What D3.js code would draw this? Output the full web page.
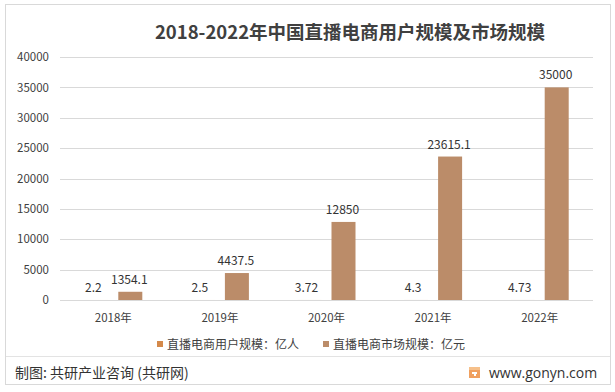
<!DOCTYPE html>
<html>
<head>
<meta charset="utf-8">
<script src="https://cdn.jsdelivr.net/npm/d3@7"></script>
<style>
  html, body { margin: 0; padding: 0; background: #fff; }
  svg { display: block; font-family: "Noto Sans CJK SC", "Noto Sans", sans-serif; }
</style>
</head>
<body>
<svg id="chart" width="615" height="392"></svg>
<script>
const categories = ["2018年", "2019年", "2020年", "2021年", "2022年"];
const users = [2.2, 2.5, 3.72, 4.3, 4.73];
const market = [1354.1, 4437.5, 12850, 23615.1, 35000];
const yTicks = [0, 5000, 10000, 15000, 20000, 25000, 30000, 35000, 40000];
const seriesNames = ["直播电商用户规模：亿人", "直播电商市场规模：亿元"];
const seriesColors = ["#d4894a", "#bb8c69"];
const titleText = "2018-2022年中国直播电商用户规模及市场规模";

const svg = d3.select("#chart");

// outer border
svg.append("rect").attr("x", 5.5).attr("y", 4.5).attr("width", 605).attr("height", 380)
  .attr("fill", "#fff").attr("stroke", "#d9d9d9").attr("stroke-width", 1);

// title
svg.append("text").attr("x", 350).attr("y", 39).attr("text-anchor", "middle")
  .attr("font-size", 18.5).attr("font-weight", "bold").attr("fill", "#404040")
  .text(titleText);

const x = d3.scaleBand().domain(categories).range([60, 593]);
const y = d3.scaleLinear().domain([0, 40000]).range([300, 57]);

// gridlines
svg.append("g").selectAll("line").data(yTicks).join("line")
  .attr("x1", 60).attr("x2", 593)
  .attr("y1", d => Math.round(y(d)) + 0.5).attr("y2", d => Math.round(y(d)) + 0.5)
  .attr("stroke", "#d9d9d9").attr("stroke-width", 1);

// y axis labels
const yAxis = d3.axisLeft(y).tickValues(yTicks).tickSize(0).tickPadding(0).tickFormat(d3.format("d"));
const ya = svg.append("g").attr("transform", "translate(49,0)").call(yAxis);
ya.select(".domain").remove();
ya.selectAll("text").attr("font-size", 11.5).attr("fill", "#404040")
  .attr("font-family", "'Noto Sans CJK SC', 'Noto Sans', sans-serif");

// x axis labels
const xAxis = d3.axisBottom(x).tickSize(0).tickPadding(0);
const xa = svg.append("g").attr("transform", "translate(0,314)").call(xAxis);
xa.select(".domain").remove();
xa.selectAll("text").attr("font-size", 11.5).attr("fill", "#404040")
  .attr("font-family", "'Noto Sans CJK SC', 'Noto Sans', sans-serif");

// bars
const barW = 24, gap = 10;
const offsets = [-(barW + gap) / 2, (barW + gap) / 2];
const series = [users, market];
series.forEach((vals, si) => {
  const g = svg.append("g");
  g.selectAll("rect").data(vals).join("rect")
    .attr("x", (d, i) => x(categories[i]) + x.bandwidth() / 2 + offsets[si] - barW / 2)
    .attr("y", d => y(d))
    .attr("width", barW)
    .attr("height", d => y(0) - y(d))
    .attr("fill", seriesColors[si]);
  g.selectAll("text").data(vals).join("text")
    .attr("x", (d, i) => x(categories[i]) + x.bandwidth() / 2 + offsets[si] + (si === 0 ? -3 : -1))
    .attr("y", d => y(d) - 8)
    .attr("text-anchor", "middle")
    .attr("font-size", 12).attr("fill", "#333")
    .text(d => d);
});

// legend
const legendX = [157, 323];
seriesNames.forEach((name, i) => {
  svg.append("rect").attr("x", legendX[i]).attr("y", 341).attr("width", 6).attr("height", 6)
    .attr("fill", seriesColors[i]);
  svg.append("text").attr("x", legendX[i] + 10).attr("y", 348.5)
    .attr("font-size", 12).attr("fill", "#404040").text(name);
});

// footer separator
svg.append("line").attr("x1", 6).attr("x2", 610).attr("y1", 356.5).attr("y2", 356.5)
  .attr("stroke", "#e3e3e3");

svg.append("text").attr("x", 15).attr("y", 378)
  .attr("font-size", 14).attr("fill", "#333").text("制图: 共研产业咨询 (共研网)");

// logo
const lg = svg.append("g").attr("transform", "translate(469,367)");
lg.append("rect").attr("width", 11).attr("height", 11).attr("fill", "#f0a060");
lg.append("rect").attr("x", 0).attr("y", 0).attr("width", 11).attr("height", 3).attr("fill", "#f6c08a");
lg.append("rect").attr("x", 3).attr("y", 5).attr("width", 5).attr("height", 2).attr("fill", "#fff");
lg.append("rect").attr("x", 5).attr("y", 5).attr("width", 2).attr("height", 4).attr("fill", "#fff");

svg.append("text").attr("x", 489).attr("y", 378)
  .attr("font-size", 14).attr("fill", "#333").attr("font-family", "'Open Sans', 'Noto Sans', sans-serif")
  .text("www.gonyn.com");
</script>
</body>
</html>
